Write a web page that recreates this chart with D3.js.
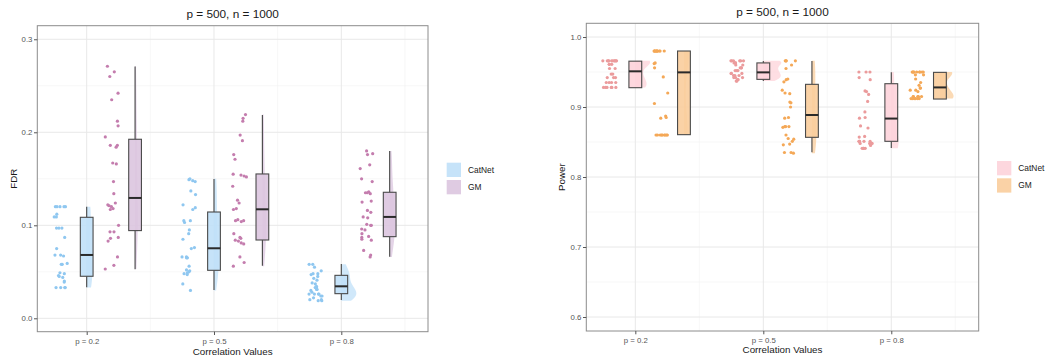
<!DOCTYPE html>
<html>
<head>
<meta charset="utf-8">
<script src="https://cdn.jsdelivr.net/npm/d3@7"></script>
<style>
  body { margin: 0; background: #fff; }
  svg text { font-family: "Liberation Sans", Arial, Helvetica, sans-serif; }
</style>
</head>
<body>
<svg id="chart" width="1047" height="360"></svg>
<script>
// ---- data --------------------------------------------------------------
const categories = ["p = 0.2", "p = 0.5", "p = 0.8"];
const methods = ["CatNet", "GM"];
const chartTitle = "p = 500, n = 1000";
const xTitle = "Correlation Values";

// FDR, one array of replicate values per correlation level
const fdrCatNet = [
  [0.120,0.120,0.120,0.120,0.120,0.112,0.109,0.109,0.097,0.097,0.097,0.087,0.075,0.068,0.068,
   0.067,0.059,0.058,0.058,0.049,0.048,0.046,0.045,0.044,0.040,0.039,0.033,0.033,0.033,0.033],
  [0.150,0.149,0.148,0.147,0.137,0.133,0.122,0.119,0.117,0.105,0.105,0.103,0.095,0.091,0.085,
   0.076,0.075,0.066,0.066,0.065,0.065,0.056,0.052,0.051,0.050,0.049,0.048,0.047,0.037,0.030],
  [0.058,0.058,0.055,0.051,0.048,0.048,0.047,0.045,0.043,0.041,0.038,0.037,0.034,0.034,0.033,
   0.031,0.031,0.030,0.028,0.026,0.026,0.026,0.026,0.024,0.024,0.022,0.020,0.020,0.019,0.019]
];
const fdrGM = [
  [0.271,0.265,0.260,0.242,0.235,0.212,0.207,0.195,0.186,0.186,0.184,0.167,0.166,0.147,0.134,
   0.124,0.122,0.121,0.118,0.117,0.100,0.093,0.093,0.087,0.086,0.083,0.066,0.057,0.053,0.120],
  [0.219,0.215,0.212,0.197,0.191,0.176,0.171,0.155,0.154,0.153,0.152,0.142,0.127,0.124,0.118,
   0.117,0.106,0.105,0.105,0.104,0.091,0.087,0.086,0.084,0.083,0.081,0.080,0.066,0.060,0.056],
  [0.180,0.177,0.176,0.165,0.161,0.150,0.147,0.136,0.135,0.135,0.134,0.126,0.125,0.116,0.114,
   0.109,0.108,0.101,0.100,0.100,0.096,0.095,0.091,0.088,0.087,0.085,0.084,0.073,0.068,0.066]
];
// box summaries: [lower whisker, Q1, median, Q3, upper whisker]
const fdrCatNetBox = [
  [0.0333,0.0452,0.0681,0.1086,0.1200],
  [0.0305,0.0516,0.0753,0.1143,0.1498],
  [0.0197,0.0265,0.0344,0.0462,0.0584]
];
const fdrGMBox = [
  [0.0527,0.0943,0.1294,0.1925,0.2706],
  [0.0566,0.0842,0.1172,0.1552,0.2186],
  [0.0663,0.0878,0.1090,0.1355,0.1800]
];

// Power
const powerCatNet = [
  [0.966,0.966,0.966,0.966,0.966,0.966,0.966,0.966,0.966,0.966,0.961,0.961,0.961,0.955,0.955,
   0.947,0.947,0.942,0.942,0.942,0.935,0.935,0.935,0.935,0.928,0.928,0.928,0.928,0.928,0.928],
  [0.966,0.966,0.966,0.966,0.966,0.966,0.963,0.963,0.963,0.960,0.960,0.956,0.956,0.956,0.952,
   0.952,0.952,0.948,0.948,0.948,0.945,0.945,0.945,0.942,0.942,0.942,0.939,0.939,0.937,0.937],
  [0.950,0.950,0.950,0.942,0.939,0.923,0.922,0.918,0.908,0.893,0.885,0.884,0.873,0.870,0.858,
   0.857,0.851,0.851,0.851,0.851,0.851,0.848,0.848,0.848,0.848,0.845,0.841,0.841,0.841,0.841]
];
const powerGM = [
  [0.980,0.980,0.980,0.980,0.980,0.980,0.980,0.980,0.980,0.980,0.980,0.980,0.963,0.962,0.956,
   0.943,0.920,0.905,0.887,0.885,0.884,0.860,0.860,0.860,0.860,0.860,0.860,0.860,0.860,0.860],
  [0.966,0.966,0.966,0.966,0.960,0.955,0.940,0.939,0.936,0.924,0.920,0.919,0.907,0.906,0.900,
   0.885,0.884,0.872,0.872,0.871,0.872,0.860,0.855,0.854,0.851,0.847,0.846,0.835,0.835,0.834],
  [0.950,0.950,0.950,0.950,0.950,0.950,0.950,0.950,0.950,0.946,0.946,0.940,0.935,0.931,0.927,
   0.927,0.924,0.924,0.922,0.915,0.915,0.915,0.915,0.915,0.912,0.912,0.912,0.912,0.912,0.912]
];
const powerCatNetBox = [
  [0.9276,0.9276,0.9510,0.9655,0.9655],
  [0.9370,0.9395,0.9495,0.9630,0.9657],
  [0.8414,0.8510,0.8835,0.9333,0.9495]
];
const powerGMBox = [
  [0.8605,0.8605,0.9495,0.9800,0.9800],
  [0.8352,0.8567,0.8886,0.9324,0.9657],
  [0.9114,0.9114,0.9280,0.9495,0.9495]
];

const fdrTicks = [0.0, 0.1, 0.2, 0.3];
const fdrMinor = [0.05, 0.15, 0.25];
const powerTicks = [0.6, 0.7, 0.8, 0.9, 1.0];
const powerMinor = [0.65, 0.75, 0.85, 0.95];

// ---- helpers -----------------------------------------------------------
const svg = d3.select("#chart");

// Gaussian kernel density (nrd0 bandwidth), trimmed to the data range
function density(values, n = 256) {
  const s = values.slice().sort(d3.ascending);
  const sd = d3.deviation(s);
  const iqr = d3.quantile(s, 0.75) - d3.quantile(s, 0.25);
  let lo = Math.min(sd, iqr / 1.34);
  if (!(lo > 0)) lo = sd;
  const bw = 0.9 * lo * Math.pow(s.length, -0.2);
  const [mn, mx] = d3.extent(s);
  const k = u => Math.exp(-0.5 * u * u) / Math.sqrt(2 * Math.PI);
  return d3.range(n).map(i => {
    const g = mn + (mx - mn) * i / (n - 1);
    return [g, d3.mean(s, v => k((g - v) / bw)) / bw];
  });
}

function drawPanel(cfg) {
  const g = svg.append("g");
  const x = d3.scaleLinear().domain(cfg.xDomain).range([cfg.left, cfg.right]);
  const y = d3.scaleLinear().domain(cfg.yDomain).range([cfg.bottom, cfg.top]);
  const catPos = categories.map((c, i) => i + 1);
  const minorX = [0.5, 1.5, 2.5, 3.5].filter(v => v > cfg.xDomain[0] && v < cfg.xDomain[1]);

  // grid
  const grid = g.append("g");
  grid.selectAll(".hmin").data(cfg.yMinor).join("line")
    .attr("x1", cfg.left).attr("x2", cfg.right)
    .attr("y1", d => y(d)).attr("y2", d => y(d))
    .attr("stroke", "#f2f2f2").attr("stroke-width", 0.6);
  grid.selectAll(".vmin").data(minorX).join("line")
    .attr("x1", d => x(d)).attr("x2", d => x(d))
    .attr("y1", cfg.top).attr("y2", cfg.bottom)
    .attr("stroke", "#f2f2f2").attr("stroke-width", 0.6);
  grid.selectAll(".hmaj").data(cfg.yTicks).join("line")
    .attr("x1", cfg.left).attr("x2", cfg.right)
    .attr("y1", d => y(d)).attr("y2", d => y(d))
    .attr("stroke", "#e8e8e8").attr("stroke-width", 1);
  grid.selectAll(".vmaj").data(catPos).join("line")
    .attr("x1", d => x(d)).attr("x2", d => x(d))
    .attr("y1", cfg.top).attr("y2", cfg.bottom)
    .attr("stroke", "#e8e8e8").attr("stroke-width", 1);

  // half violins, scaled by the highest density in the panel
  const dens = cfg.series.map(s => s.values.map(v => density(v)));
  const peak = d3.max(dens, ds => d3.max(ds, curve => d3.max(curve, p => p[1])));
  cfg.series.forEach((s, si) => {
    const sg = g.append("g");
    dens[si].forEach((curve, ci) => {
      const xc = x(catPos[ci] + s.boxDx);
      const area = d3.area()
        .y(p => y(p[0]))
        .x0(xc)
        .x1(p => xc + p[1] / peak * cfg.violinMax);
      sg.append("path").datum(curve)
        .attr("d", area)
        .attr("fill", s.fill).attr("fill-opacity", 0.75);
    });
  });

  // jittered points
  cfg.series.forEach((s, si) => {
    const sg = g.append("g");
    const jitter = d3.randomUniform.source(d3.randomLcg(0.137 + si * 0.31 + cfg.seed))(-0.055, 0.055);
    s.values.forEach((vals, ci) => {
      sg.selectAll(null).data(vals).join("circle")
        .attr("cx", () => x(catPos[ci] + s.pointDx + jitter()))
        .attr("cy", d => y(d))
        .attr("r", 1.6)
        .attr("fill", s.pointColor);
    });
  });

  // boxes with whiskers
  cfg.series.forEach(s => {
    const sg = g.append("g");
    s.box.forEach((b, ci) => {
      const xc = x(catPos[ci] + s.boxDx);
      const hw = x(0.05) - x(0);
      const [lo, q1, med, q3, hi] = b;
      sg.append("line").attr("x1", xc).attr("x2", xc)
        .attr("y1", y(q3)).attr("y2", y(hi))
        .attr("stroke", "#444").attr("stroke-width", 1.1);
      sg.append("line").attr("x1", xc).attr("x2", xc)
        .attr("y1", y(q1)).attr("y2", y(lo))
        .attr("stroke", "#444").attr("stroke-width", 1.1);
      sg.append("rect")
        .attr("x", xc - hw).attr("width", 2 * hw)
        .attr("y", y(q3)).attr("height", y(q1) - y(q3))
        .attr("fill", s.fill).attr("fill-opacity", 0.9)
        .attr("stroke", "#4a4a4a").attr("stroke-width", 1.1);
      sg.append("line").attr("x1", xc - hw).attr("x2", xc + hw)
        .attr("y1", y(med)).attr("y2", y(med))
        .attr("stroke", "#2a2a2a").attr("stroke-width", 2);
    });
  });

  // panel border
  g.append("rect")
    .attr("x", cfg.left).attr("y", cfg.top)
    .attr("width", cfg.right - cfg.left).attr("height", cfg.bottom - cfg.top)
    .attr("fill", "none").attr("stroke", "#8c8c8c").attr("stroke-width", 1);

  // axes
  const yAxis = g.append("g").attr("transform", `translate(${cfg.left},0)`)
    .call(d3.axisLeft(y).tickValues(cfg.yTicks).tickSize(3.3).tickPadding(1.6)
      .tickFormat(d3.format(".1f")));
  const xAxis = g.append("g").attr("transform", `translate(0,${cfg.bottom})`)
    .call(d3.axisBottom(x).tickValues(catPos).tickSize(3.3).tickPadding(3.4)
      .tickFormat((d, i) => categories[i]));
  [yAxis, xAxis].forEach(a => {
    a.select(".domain").remove();
    a.selectAll(".tick line").attr("stroke", "#555");
    a.selectAll(".tick text").attr("fill", "#555").attr("font-size", 7.8)
      .attr("font-family", "Liberation Sans, Arial, sans-serif");
  });

  // titles
  const cx = (cfg.left + cfg.right) / 2;
  g.append("text").attr("x", cx).attr("y", cfg.titleY)
    .attr("text-anchor", "middle").attr("font-size", 11.8).attr("fill", "#1a1a1a")
    .text(chartTitle);
  g.append("text").attr("x", cx).attr("y", cfg.xTitleY)
    .attr("text-anchor", "middle").attr("font-size", 9.8).attr("fill", "#1a1a1a")
    .text(xTitle);
  g.append("text")
    .attr("transform", `translate(${cfg.yTitleX},${(cfg.top + cfg.bottom) / 2}) rotate(-90)`)
    .attr("text-anchor", "middle").attr("font-size", 9.8).attr("fill", "#1a1a1a")
    .text(cfg.yTitle);

  // legend
  const lg = g.append("g").attr("transform", `translate(${cfg.legendX},${cfg.legendY})`);
  cfg.series.forEach((s, i) => {
    lg.append("rect").attr("x", 0).attr("y", i * 17.3)
      .attr("width", 14.3).attr("height", 14.3)
      .attr("fill", s.fill).attr("fill-opacity", 0.9);
    lg.append("text").attr("x", 21.3).attr("y", i * 17.3 + 7.2)
      .attr("dy", "0.35em").attr("font-size", 8.4).attr("fill", "#1a1a1a")
      .text(methods[i]);
  });
}

// ---- FDR panel ---------------------------------------------------------
drawPanel({
  left: 37.3, right: 428, top: 25.7, bottom: 331.7,
  xDomain: [0.612, 3.681], yDomain: [-0.0144, 0.3146],
  yTicks: fdrTicks, yMinor: fdrMinor, yTitle: "FDR",
  titleY: 18.2, xTitleY: 355.4, yTitleX: 16.8,
  legendX: 446.7, legendY: 162.7, violinMax: 15, seed: 0.05,
  series: [
    { values: fdrCatNet, box: fdrCatNetBox, pointColor: "#8fc7f0", fill: "#c0e0f8", pointDx: -0.2, boxDx: 0 },
    { values: fdrGM, box: fdrGMBox, pointColor: "#c47dae", fill: "#dbc5df", pointDx: 0.2, boxDx: 0.38 }
  ]
});

// ---- Power panel -------------------------------------------------------
drawPanel({
  left: 586.3, right: 978.7, top: 23.3, bottom: 331,
  xDomain: [0.617, 3.683], yDomain: [0.58, 1.0196],
  yTicks: powerTicks, yMinor: powerMinor, yTitle: "Power",
  titleY: 16.2, xTitleY: 353.4, yTitleX: 564.8,
  legendX: 997, legendY: 161, violinMax: 18, seed: 0.41,
  series: [
    { values: powerCatNet, box: powerCatNetBox, pointColor: "#eb9b9c", fill: "#fdd3da", pointDx: -0.2, boxDx: 0 },
    { values: powerGM, box: powerGMBox, pointColor: "#f4a857", fill: "#f9cd9c", pointDx: 0.2, boxDx: 0.38 }
  ]
});
</script>
</body>
</html>
